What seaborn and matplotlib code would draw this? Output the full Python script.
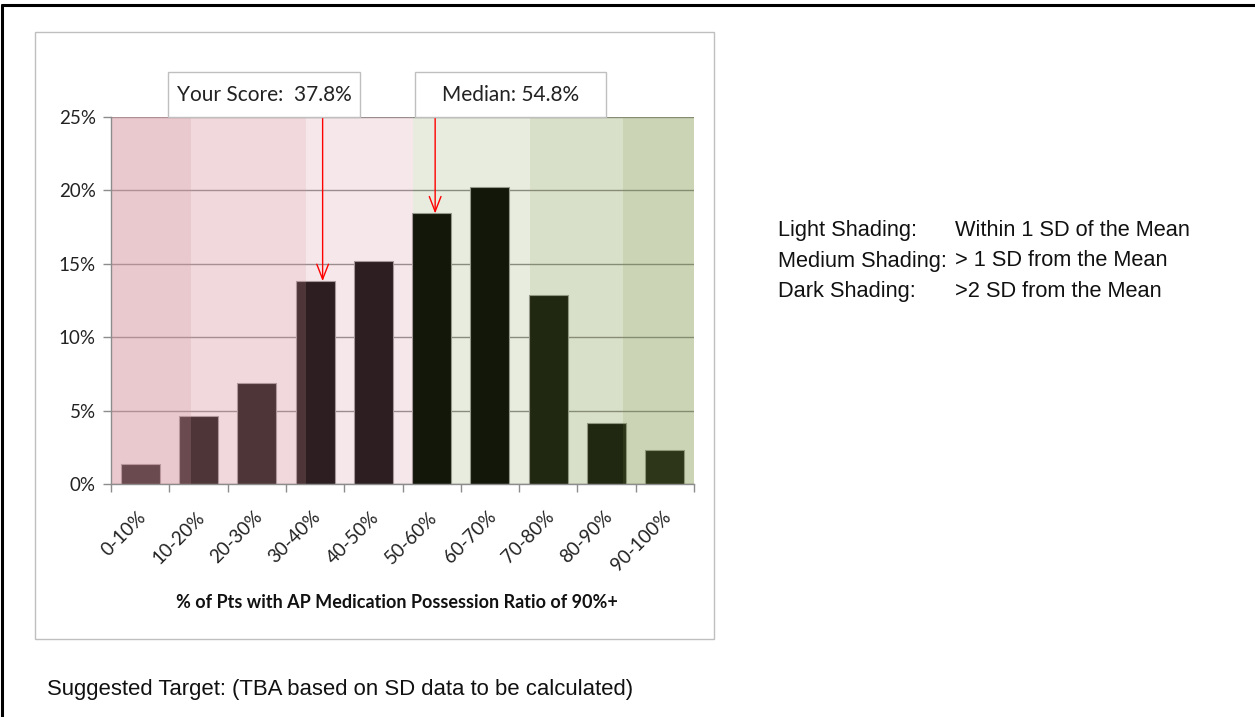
import matplotlib
matplotlib.use("Agg")
import matplotlib.pyplot as plt
import matplotlib.patches as mpatches
import matplotlib.lines as mlines
from matplotlib.ticker import FixedLocator, FuncFormatter
from matplotlib.transforms import ScaledTranslation
import seaborn as sns
import pandas as pd

# ---------------- data ----------------
categories = ["0-10%", "10-20%", "20-30%", "30-40%", "40-50%",
              "50-60%", "60-70%", "70-80%", "80-90%", "90-100%"]
values = [1.36, 4.64, 6.86, 13.82, 15.18, 18.43, 20.25, 12.86, 4.14, 2.32]
y_ticks = [0, 5, 10, 15, 20, 25]

# shading bands (in category-index units)
band_edges = [-0.5, 0.87, 2.84, 4.68, 6.69, 8.28, 9.5]
band_colors = ["#D6949E", "#D6949E", "#D6949E", "#799040", "#799040", "#799040"]
band_alphas = [0.50, 0.36, 0.21, 0.165, 0.28, 0.38]

score_label = "Your Score:  37.8%"
median_label = "Median: 54.8%"
arrow_x = [3.13, 5.06]          # where the arrows are drawn
arrow_bar = [3, 5]              # bar each arrow points to

legend_names = ["Light Shading:", "Medium Shading:", "Dark Shading:"]
legend_desc = ["Within 1 SD of the Mean", "> 1 SD from the Mean", ">2 SD from the Mean"]
footer = "Suggested Target: (TBA based on SD data to be calculated)"
xlabel = "% of Pts with AP Medication Possession Ratio of 90%+"

# ---------------- style ----------------
sns.set_theme(style="white")
plt.rcParams["font.family"] = ["Lato", "DejaVu Sans"]

W, H = 1255, 717
fig = plt.figure(figsize=(W / 100, H / 100), dpi=100)

def fx(px):
    return px / W

def fy(py):
    return 1 - py / H

# chart frame
fig.patches.append(mpatches.Rectangle((fx(35), fy(639)), fx(714) - fx(35), fy(32) - fy(639),
                                      transform=fig.transFigure, fill=False,
                                      edgecolor="#bfbfbf", lw=1.0, zorder=0))
# page border (top and left)
fig.lines.append(mlines.Line2D([fx(2), 1.0], [fy(5), fy(5)], transform=fig.transFigure,
                               color="black", lw=2.2))
fig.lines.append(mlines.Line2D([fx(2), fx(2)], [fy(5), 0.0], transform=fig.transFigure,
                               color="black", lw=2.2))

ax = fig.add_axes([fx(111), fy(484), fx(694) - fx(111), fy(117) - fy(484)])

df = pd.DataFrame({"cat": categories, "val": values})
sns.barplot(data=df, x="cat", y="val", color="black", width=0.67,
            edgecolor="#9a9a9a", linewidth=0.8, saturation=1, ax=ax, zorder=2)

# shading bands drawn over the bars
for i in range(len(band_colors)):
    ax.axvspan(band_edges[i], band_edges[i + 1], color=band_colors[i],
               alpha=band_alphas[i], lw=0, zorder=3)

ax.set_xlim(-0.5, len(categories) - 0.5)
ax.set_ylim(0, 25)
ax.yaxis.set_major_locator(FixedLocator(y_ticks))
ax.yaxis.set_major_formatter(FuncFormatter(lambda v, p: f"{int(v)}%"))
ax.grid(axis="y", color="#8c8c8c", lw=1.0, zorder=1)
ax.set_axisbelow(True)
for s in ["top", "right"]:
    ax.spines[s].set_visible(False)
for s in ["left", "bottom"]:
    ax.spines[s].set_color("#8c8c8c")
    ax.spines[s].set_linewidth(1.0)
    ax.spines[s].set_zorder(4)

ax.tick_params(axis="y", which="major", direction="out", length=6, width=1,
               color="#8c8c8c", left=True, labelsize=13.5, labelcolor="#222222", pad=5)
ax.set_xticks(range(len(categories)))
ax.set_xticklabels(categories, rotation=45, ha="right", rotation_mode="anchor",
                   fontsize=13.5, color="#222222")
ax.tick_params(axis="x", which="major", length=0, pad=16)
offset = ScaledTranslation(-3 / 100, -2 / 100, fig.dpi_scale_trans)
for lbl in ax.get_xticklabels():
    lbl.set_transform(lbl.get_transform() + offset)
ax.set_xticks([i - 0.5 for i in range(len(categories) + 1)], minor=True)
ax.tick_params(axis="x", which="minor", direction="out", length=6, width=1,
               color="#8c8c8c", bottom=True)
ax.set_ylabel("")
ax.set_xlabel(xlabel, fontsize=13, fontweight="bold", color="#111111")
ax.xaxis.set_label_coords((397 - 111) / 583, (484 - 602) / 367)
ax.xaxis.label.set_va("center")

# arrows
for xa, bi in zip(arrow_x, arrow_bar):
    ax.annotate("", xy=(xa, values[bi]), xytext=(xa, 25),
                arrowprops=dict(arrowstyle="->,head_length=0.9,head_width=0.35",
                                color="#ff0000", lw=1.0, shrinkA=0, shrinkB=0),
                zorder=5, annotation_clip=False)

# label boxes
for (x0, x1), txt in zip([(168, 360), (415, 606)], [score_label, median_label]):
    fig.patches.append(mpatches.Rectangle((fx(x0), fy(117)), fx(x1) - fx(x0), fy(72) - fy(117),
                                          transform=fig.transFigure, facecolor="white",
                                          edgecolor="#bfbfbf", lw=1.0, zorder=5))
    fig.text(fx((x0 + x1) / 2), fy(95), txt, ha="center", va="center",
             fontsize=15, color="#222222", zorder=6)

# legend text at right
arial = ["Liberation Sans", "DejaVu Sans"]
for i, (n, d) in enumerate(zip(legend_names, legend_desc)):
    yy = 230 + 31 * i
    fig.text(fx(778), fy(yy), n, ha="left", va="center", fontsize=15.7, family=arial, color="#111111")
    fig.text(fx(955), fy(yy), d, ha="left", va="center", fontsize=15.7, family=arial, color="#111111")

fig.text(fx(47), fy(690), footer, ha="left", va="center", fontsize=15.9, family=arial, color="#111111")

fig.savefig("out.png", dpi=100)
